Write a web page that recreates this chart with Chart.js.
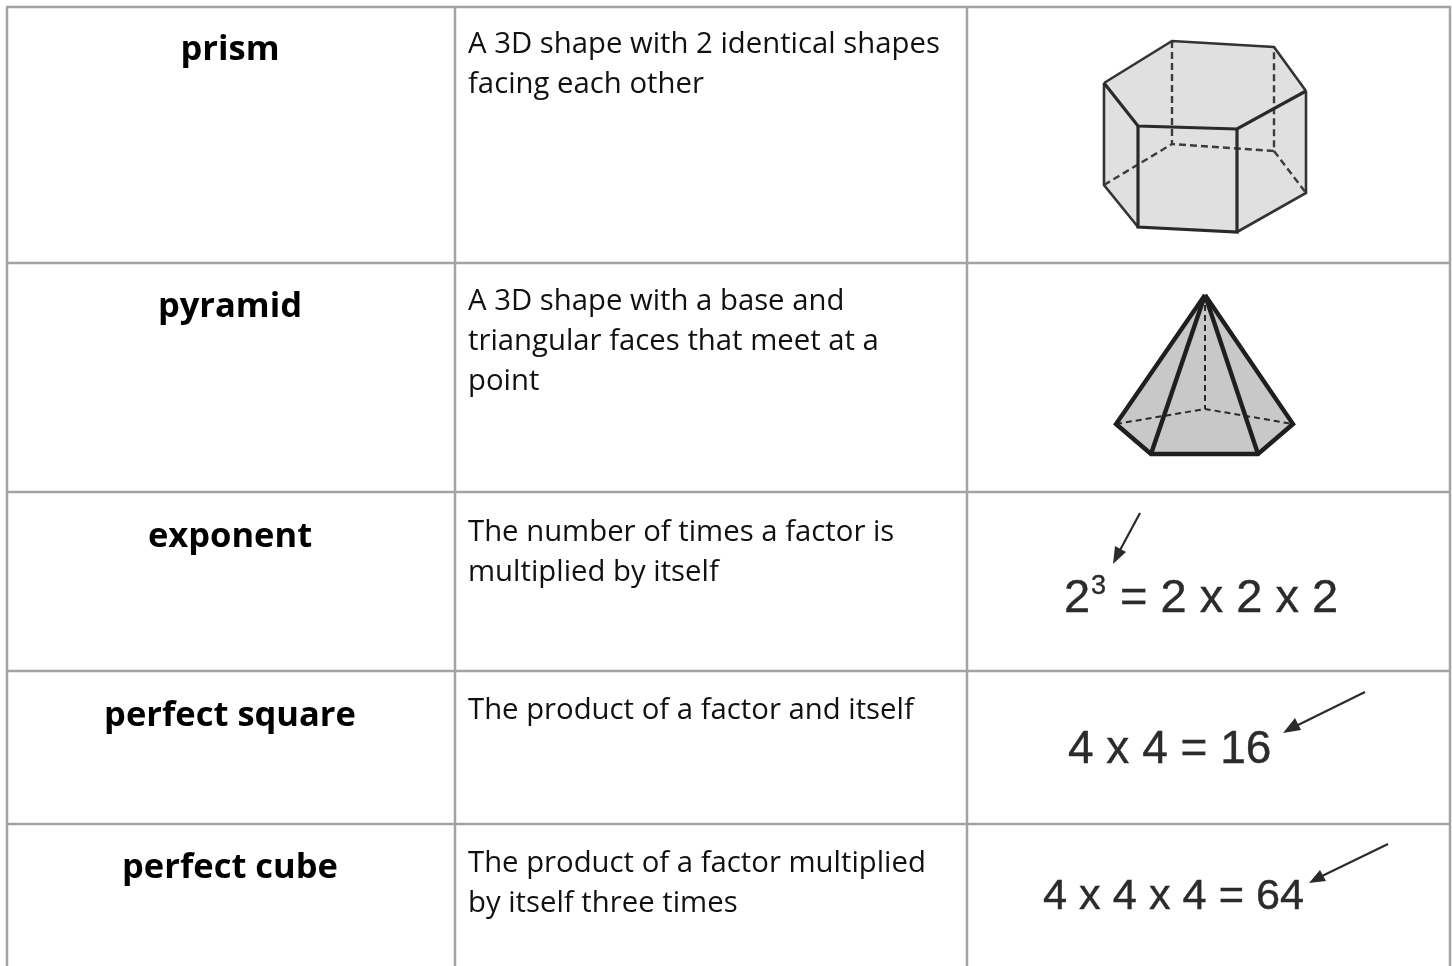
<!DOCTYPE html>
<html>
<head>
<meta charset="utf-8">
<title>Vocabulary table</title>
<style>
  html, body { margin: 0; padding: 0; background: #fff; }
  canvas { display: block; }
</style>
<script src="https://cdn.jsdelivr.net/npm/chart.js@4/dist/chart.umd.min.js"></script>
</head>
<body>
<canvas id="tableChart" width="1452" height="966"></canvas>
<script>
// table content, one entry per row
const terms = ['prism', 'pyramid', 'exponent', 'perfect square', 'perfect cube'];
const definitions = [
    ['A 3D shape with 2 identical shapes', 'facing each other'],
    ['A 3D shape with a base and', 'triangular faces that meet at a', 'point'],
    ['The number of times a factor is', 'multiplied by itself'],
    ['The product of a factor and itself'],
    ['The product of a factor multiplied', 'by itself three times']
];
const rowTops = [7, 263, 492, 671, 824];
const columnLines = [7, 455, 967, 1450];
const termBaselines = [60, 317, 547, 726, 878];
const definitionBaselines = [53, 310, 541, 719, 872];

// prism outline
const prismBody = [[1104, 83], [1172, 41], [1274, 47], [1306, 91], [1306, 193], [1237, 232], [1138, 227], [1104, 185]];
const prismBack = [
    [[1104, 83], [1172, 41], [1274, 47], [1306, 91]],
    [[1104, 83], [1104, 185], [1138, 227]],
    [[1237, 232], [1306, 193], [1306, 91]]
];
const prismFront = [
    [[1104, 83], [1138, 126], [1237, 129], [1306, 91]],
    [[1138, 126], [1138, 227], [1237, 232], [1237, 129]]
];
const prismDashed = [
    [[1172, 41], [1172, 144], [1274, 151], [1274, 47]],
    [[1104, 185], [1172, 144]],
    [[1274, 151], [1306, 193]]
];

// pyramid outline
const pyramidBody = [[1205, 295], [1293, 424], [1258, 454], [1151, 454], [1116, 424]];
const pyramidSolid = [
    [[1205, 295], [1293, 424], [1258, 454], [1151, 454], [1116, 424], [1205, 295]],
    [[1205, 295], [1151, 454]],
    [[1205, 295], [1258, 454]]
];
const pyramidDashed = [
    [[1205, 295], [1205, 409]],
    [[1116, 424], [1205, 409], [1293, 424]]
];

// formulas and their arrows
const arrowShafts = [
    [[1140, 513], [1119, 552]],
    [[1365, 692], [1296, 726]],
    [[1388, 844], [1320, 877]]
];
const arrowHeads = [
    [[1113, 564], [1115, 546], [1126, 552]],
    [[1283, 733], [1295, 718], [1301, 730]],
    [[1309, 883], [1320, 870], [1326, 881]]
];
const formulas = [
    { text: '2', x: 1064, y: 612, size: 47 },
    { text: '3', x: 1091, y: 594, size: 27 },
    { text: '= 2 x 2 x 2', x: 1120, y: 612, size: 47 },
    { text: '4 x 4 = 16', x: 1068, y: 763, size: 46 },
    { text: '4 x 4 x 4 = 64', x: 1043, y: 909, size: 43.3 }
];

const gridColor = '#a3a3a3';
const inkColor = '#2b2b2b';
const datasets = [];

function toPoints(pairs) {
    return pairs.map(p => ({ x: p[0], y: p[1] }));
}

function addLine(pairs, color, width, dash) {
    datasets.push({
        data: toPoints(pairs),
        showLine: true,
        borderColor: color,
        borderWidth: width,
        borderDash: dash || [],
        borderCapStyle: 'butt',
        borderJoinStyle: 'miter',
        pointRadius: 0,
        fill: false,
        tension: 0
    });
}

function addShape(pairs, color) {
    datasets.push({
        data: toPoints(pairs.concat([pairs[0]])),
        showLine: true,
        borderColor: color,
        borderWidth: 0,
        backgroundColor: color,
        pointRadius: 0,
        fill: 'shape',
        tension: 0
    });
}

addShape(prismBody, '#e0e0e0');
addShape(pyramidBody, '#c8c8c8');

rowTops.forEach(y => addLine([[columnLines[0] - 1, y], [columnLines[3] + 1, y]], gridColor, 2.5));
columnLines.forEach(x => addLine([[x, rowTops[0]], [x, 966]], gridColor, 2.5));

prismDashed.forEach(line => addLine(line, '#3c3c3c', 2.4, [7, 4]));
prismBack.forEach(line => addLine(line, '#333333', 2.6));
prismFront.forEach(line => addLine(line, '#2a2a2a', 3.2));
pyramidDashed.forEach(line => addLine(line, '#2a2a2a', 2, [6, 4]));
pyramidSolid.forEach(line => addLine(line, '#1f1f1f', 4.4));
arrowShafts.forEach(line => addLine(line, inkColor, 2.2));
arrowHeads.forEach(head => addShape(head, inkColor));

// Chart.js paints the first dataset last, so flip to keep the fills underneath
datasets.reverse();

// table and formula text goes on top of the marks
const tableText = {
    id: 'tableText',
    afterDatasetsDraw(chart) {
        const ctx = chart.ctx;
        const xs = chart.scales.x;
        const ys = chart.scales.y;
        ctx.save();
        ctx.textBaseline = 'alphabetic';

        ctx.fillStyle = '#000';
        ctx.textAlign = 'center';
        ctx.font = 'bold 34.5px "Open Sans"';
        terms.forEach((term, i) => {
            ctx.fillText(term, xs.getPixelForValue(230), ys.getPixelForValue(termBaselines[i]));
        });

        ctx.textAlign = 'left';
        ctx.font = '29.3px "Open Sans"';
        ctx.fillStyle = '#111';
        definitions.forEach((lines, i) => {
            lines.forEach((line, j) => {
                ctx.fillText(line, xs.getPixelForValue(468), ys.getPixelForValue(definitionBaselines[i] + j * 40));
            });
        });

        ctx.fillStyle = inkColor;
        ctx.strokeStyle = inkColor;
        ctx.lineWidth = 0.4;
        formulas.forEach(f => {
            ctx.font = f.size + 'px "Liberation Sans"';
            ctx.fillText(f.text, xs.getPixelForValue(f.x), ys.getPixelForValue(f.y));
            ctx.strokeText(f.text, xs.getPixelForValue(f.x), ys.getPixelForValue(f.y));
        });
        ctx.restore();
    }
};

new Chart(document.getElementById('tableChart').getContext('2d'), {
    type: 'scatter',
    data: { datasets: datasets },
    plugins: [tableText],
    options: {
        responsive: false,
        animation: false,
        layout: { padding: 0 },
        plugins: {
            legend: { display: false },
            title: { display: false },
            tooltip: { enabled: false }
        },
        scales: {
            x: { type: 'linear', min: 0, max: 1452, display: false },
            y: { type: 'linear', min: 0, max: 966, reverse: true, display: false }
        }
    }
});
</script>
</body>
</html>
